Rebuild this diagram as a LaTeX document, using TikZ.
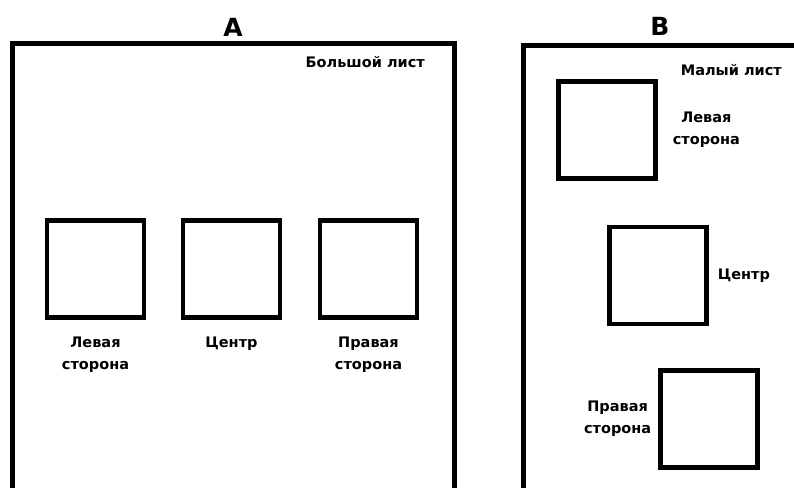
\documentclass[tikz,border=0pt]{standalone}
\usepackage{fontspec}
\setmainfont{DejaVu Sans}
\usepackage{tikz}
\usetikzlibrary{positioning}
\tikzset{
  sheetline/.style={line width=5pt},
  sqbox/.style={draw, line width=4.3pt, minimum size=97pt, inner sep=0pt},
  lbl/.style={font=\fontsize{14.5}{22}\selectfont\bfseries, align=center, inner sep=0pt},
  ttl/.style={font=\fontsize{25}{28}\selectfont\bfseries, inner sep=0pt},
}

\begin{document}
\begin{tikzpicture}[x=1pt, y=-1pt]
  \useasboundingbox (0,0) rectangle (794,487);
  \clip (0,0) rectangle (794,487);

  % Sheet titles
  \node[ttl] (titleA) at (233,27) {A};
  \node[ttl] (titleB) at (660,26) {B};

  % Large sheet
  \draw[sheetline] (12,44) rectangle (454,540);
  \node[lbl, anchor=east] (bigname) at (425,62) {Большой лист};

  \node[sqbox] (sqA1) at (95.5,269) {};
  \node[sqbox] (sqA2) at (231.5,269) {};
  \node[sqbox] (sqA3) at (368.5,269) {};

  \node[lbl, below=17pt of sqA1] (lblA1) {Левая\\сторона};
  \node[lbl, below=17pt of sqA2] (lblA2) {Центр};
  \node[lbl, below=17pt of sqA3] (lblA3) {Правая\\сторона};

  % Small sheet
  \draw[sheetline] (523,46) rectangle (840,540);
  \node[lbl, anchor=east] (smallname) at (782,70) {Малый лист};

  \node[sqbox] (sqB1) at (607,130) {};
  \node[sqbox] (sqB2) at (658,275.5) {};
  \node[sqbox] (sqB3) at (709,419) {};

  \node[lbl, right=15pt of sqB1] (lblB1) {Левая\\сторона};
  \node[lbl, right=9pt of sqB2] (lblB2) {Центр};
  \node[lbl, left=7pt of sqB3] (lblB3) {Правая\\сторона};
\end{tikzpicture}
\end{document}
